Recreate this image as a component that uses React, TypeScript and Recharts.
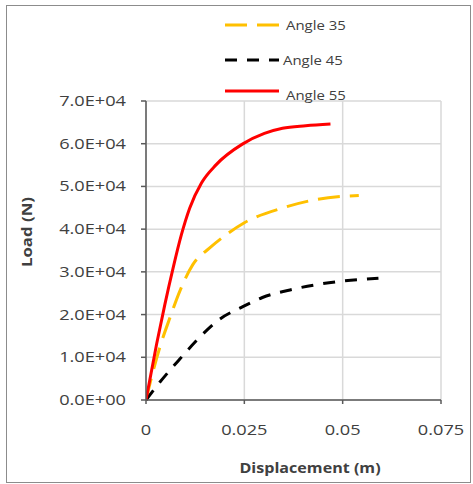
import React from 'react';
import { LineChart, Line, XAxis, YAxis, CartesianGrid } from 'recharts';

// values (displacement in m, load in N)
const angle35Disp = [0, 0.0014, 0.0035, 0.0061, 0.0086, 0.0119, 0.0162, 0.0204, 0.025, 0.0347, 0.0431, 0.0541];
const angle35Load = [0, 5300, 12300, 19300, 25500, 31700, 35600, 38700, 41500, 44950, 46900, 47900];

const angle45Disp = [0, 0.0035, 0.0086, 0.0136, 0.0187, 0.0245, 0.0296, 0.0372, 0.0465, 0.0591];
const angle45Load = [0, 4150, 9600, 14650, 18900, 21800, 24000, 25900, 27450, 28500];

const angle55Disp = [0, 0.0027, 0.0048, 0.0069, 0.009, 0.0111, 0.0141, 0.0178, 0.0245, 0.0301, 0.0347, 0.0406, 0.0469];
const angle55Load = [0, 13100, 22400, 30950, 38700, 44900, 50800, 55050, 59900, 62400, 63600, 64200, 64600];

const xTicks = [0, 0.025, 0.05, 0.075];
const yTicks = [0, 10000, 20000, 30000, 40000, 50000, 60000, 70000];

const zip = (d: number[], l: number[]) => d.map((x, i) => ({ disp: x, load: l[i] }));

const series = [
  { name: 'Angle 35', data: zip(angle35Disp, angle35Load), color: '#ffc000', dash: '22 10' },
  { name: 'Angle 45', data: zip(angle45Disp, angle45Load), color: '#000000', dash: '12 10' },
  { name: 'Angle 55', data: zip(angle55Disp, angle55Load), color: '#ff0000', dash: undefined },
];

const font = '"Open Sans", sans-serif';

const sci = (v: number) => {
  if (v === 0) return '0.0E+00';
  const e = Math.floor(Math.log10(v));
  const m = v / Math.pow(10, e);
  return `${m.toFixed(1)}E+${String(e).padStart(2, '0')}`;
};

const YTick = (props: any) => {
  const { x, y, payload } = props;
  return (
    <text transform={`translate(${x},${y}) scale(1.3,1)`} textAnchor="end" dy="0.36em"
      fontFamily={font} fontSize={14} fill="#404040">
      {sci(payload.value)}
    </text>
  );
};

const XTick = (props: any) => {
  const { x, y, payload } = props;
  return (
    <text transform={`translate(${x},${y}) scale(1.3,1)`} textAnchor="middle" dy="0.71em"
      fontFamily={font} fontSize={14} fill="#404040">
      {String(payload.value)}
    </text>
  );
};

const legendRows = [25, 60, 91];

const LegendBox = () => (
  <svg width={473} height={110} style={{ position: 'absolute', left: 0, top: 0 }}>
    {series.map((s, i) => (
      <g key={s.name}>
        <line x1={225} x2={279} y1={legendRows[i]} y2={legendRows[i]} stroke={s.color}
          strokeWidth={3} strokeDasharray={s.dash} />
        <text transform={`translate(${i === 1 ? 283 : 286},${legendRows[i] + (i === 2 ? 9 : 5)}) scale(1.15,1)`}
          fontFamily={font} fontSize={13} fill="#404040">{s.name}</text>
      </g>
    ))}
  </svg>
);

export default function App() {
  return (
    <div style={{ position: 'absolute', left: 0, top: 0, width: 473, height: 484, background: '#fff' }}>
      <div style={{ position: 'absolute', left: 6, top: 5, width: 463, height: 476, border: '1px solid #8c8c8c' }} />
      <LineChart width={473} height={484} margin={{ top: 101, right: 32, bottom: 54, left: 61 }}
        style={{ position: 'absolute', left: 0, top: 0 }}>
        <CartesianGrid stroke="#d9d9d9" strokeWidth={1.5} />
        <XAxis dataKey="disp" type="number" domain={[0, 0.075]} ticks={xTicks} allowDataOverflow
          stroke="#595959" strokeWidth={1.5} tickSize={4} tickMargin={21} height={30} tick={<XTick />} />
        <YAxis type="number" domain={[0, 70000]} ticks={yTicks} width={85}
          stroke="#595959" strokeWidth={1.5} tickSize={5} tickMargin={15} tick={<YTick />} />
        {series.map((s) => (
          <Line key={s.name} data={s.data} dataKey="load" name={s.name} type="monotone"
            stroke={s.color} strokeWidth={3} strokeDasharray={s.dash} dot={false}
            isAnimationActive={false} />
        ))}
      </LineChart>
      <LegendBox />
      <svg width={473} height={484} style={{ position: 'absolute', left: 0, top: 0, pointerEvents: 'none' }}>
        <text transform="translate(32,232) rotate(-90) scale(1.2,1)" textAnchor="middle"
          fontFamily={font} fontSize={14} fontWeight={700} fill="#404040">Load (N)</text>
        <text transform="translate(310,473) scale(1.15,1)" textAnchor="middle"
          fontFamily={font} fontSize={14} fontWeight={700} fill="#404040">Displacement (m)</text>
      </svg>
    </div>
  );
}
